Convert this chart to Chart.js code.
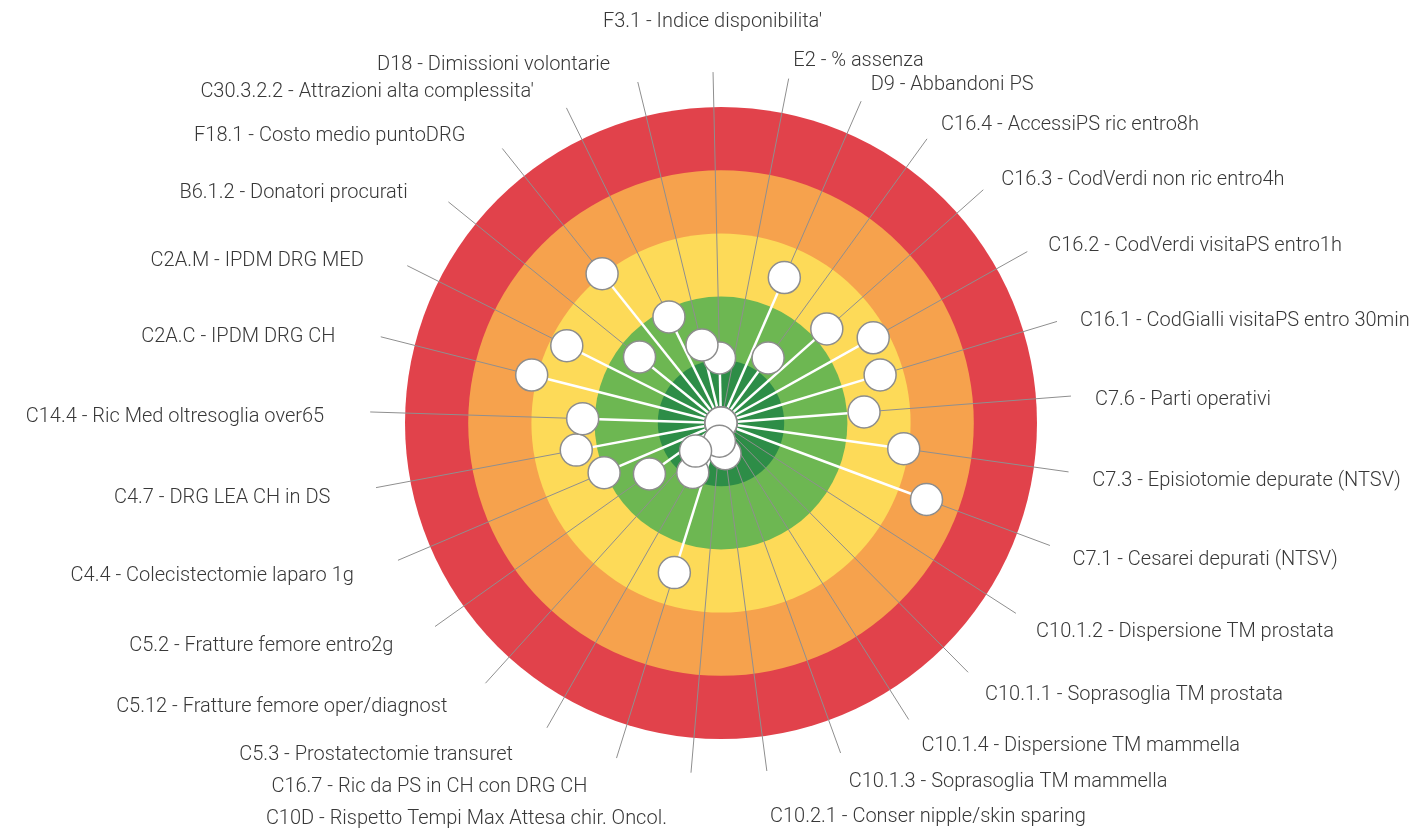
<!DOCTYPE html>
<html>
<head>
<meta charset="utf-8">
<script src="https://cdn.jsdelivr.net/npm/chart.js@4.4.1/dist/chart.umd.min.js"></script>
<style>
html,body{margin:0;padding:0;background:#ffffff;overflow:hidden;}
#wrap{position:absolute;left:0;top:0;width:1418px;height:840px;}
</style>
</head>
<body>
<div id="wrap"><canvas id="c" width="1418" height="840"></canvas></div>
<script>
// ---- data ----
const indicators = [
  "F3.1 - Indice disponibilita'",
  "E2 - % assenza",
  "D9 - Abbandoni PS",
  "C16.4 - AccessiPS ric entro8h",
  "C16.3 - CodVerdi non ric entro4h",
  "C16.2 - CodVerdi visitaPS entro1h",
  "C16.1 - CodGialli visitaPS entro 30min",
  "C7.6 - Parti operativi",
  "C7.3 - Episiotomie depurate (NTSV)",
  "C7.1 - Cesarei depurati (NTSV)",
  "C10.1.2 - Dispersione TM prostata",
  "C10.1.1 - Soprasoglia TM prostata",
  "C10.1.4 - Dispersione TM mammella",
  "C10.1.3 - Soprasoglia TM mammella",
  "C10.2.1 - Conser nipple/skin sparing",
  "C10D - Rispetto Tempi Max Attesa chir. Oncol.",
  "C16.7 - Ric da PS in CH con DRG CH",
  "C5.3 - Prostatectomie transuret",
  "C5.12 - Fratture femore oper/diagnost",
  "C5.2 - Fratture femore entro2g",
  "C4.4 - Colecistectomie laparo 1g",
  "C4.7 - DRG LEA CH in DS",
  "C14.4 - Ric Med oltresoglia over65",
  "C2A.C - IPDM DRG CH",
  "C2A.M - IPDM DRG MED",
  "B6.1.2 - Donatori procurati",
  "F18.1 - Costo medio puntoDRG",
  "C30.3.2.2 - Attrazioni alta complessita'",
  "D18 - Dimissioni volontarie"
];
const scores = [
  3.97, 5.00, 2.49, 3.73, 2.76, 2.24, 2.37, 2.73, 2.08, 1.53,
  5.00, 5.00, 5.00, 5.00, 4.51, 4.71, 2.52, 4.10, 4.40, 3.61,
  2.99, 2.67, 2.81, 1.91, 2.27, 3.34, 1.98, 3.13, 3.73
];
const bandLowerLimits = [0, 1, 2, 3, 4];
const bandNames = ["molto scarsa", "scarsa", "media", "buona", "ottima"];
const bandColors = ["#E1424B", "#F6A24D", "#FDDA58", "#6DB752", "#2D8D47"];

// ---- plugins ----
const ringsPlugin = {
  id: 'rings',
  beforeDraw(chart) {
    const s = chart.scales.r, c = chart.ctx;
    c.save();
    for (let b = 0; b < bandLowerLimits.length; b++) {
      const r = s.getDistanceFromCenterForValue(bandLowerLimits[b]);
      c.beginPath();
      c.arc(s.xCenter, s.yCenter, r, 0, Math.PI * 2);
      c.fillStyle = bandColors[b];
      c.fill();
    }
    c.restore();
  }
};

const stemsPlugin = {
  id: 'stems',
  beforeDatasetsDraw(chart) {
    const s = chart.scales.r, c = chart.ctx;
    const meta = chart.getDatasetMeta(0);
    c.save();
    c.strokeStyle = '#ffffff';
    c.lineWidth = 2.5;
    meta.data.forEach(pt => {
      c.beginPath();
      c.moveTo(s.xCenter, s.yCenter);
      c.lineTo(pt.x, pt.y);
      c.stroke();
    });
    c.restore();
  }
};

const labelsPlugin = {
  id: 'outerLabels',
  afterDraw(chart) {
    const s = chart.scales.r, c = chart.ctx;
    c.save();
    c.font = '300 20px Roboto, "Liberation Sans", sans-serif';
    c.fillStyle = '#383838';
    c.textBaseline = 'middle';
    const rad = s.drawingArea + 24;
    const margin = 14;
    indicators.forEach((txt, i) => {
      const a = s.getIndexAngle(i);
      const p = s.getPointPosition(i, rad);
      const sn = Math.sin(a), cs = Math.cos(a);
      const w = c.measureText(txt).width;
      let x = p.x, y = p.y + 6;
      if (Math.abs(sn) < 0.05) {
        c.textAlign = 'center';
        y = p.y - cs * 26;
      } else if (sn > 0) {
        c.textAlign = 'left';
        if (x + w > chart.width - 4) x = chart.width - 4 - w;
      } else {
        c.textAlign = 'right';
        x = p.x - 22;
        if (x - w < margin) x = margin + w;
      }
      if (Math.abs(sn) < 0.2 && cs < 0) y += 16;
      c.fillText(txt, x, y);
    });
    c.restore();
  }
};

new Chart(document.getElementById('c'), {
  type: 'radar',
  data: {
    labels: indicators,
    datasets: [{
      data: scores,
      showLine: false,
      borderWidth: 0,
      backgroundColor: 'rgba(0,0,0,0)',
      pointRadius: 16,
      pointHoverRadius: 16,
      pointBackgroundColor: '#ffffff',
      pointBorderColor: '#8d8d8d',
      pointBorderWidth: 1.5
    }]
  },
  options: {
    responsive: false,
    animation: false,
    devicePixelRatio: 1,
    events: [],
    layout: { padding: { left: 370, right: 346, top: 72, bottom: 66 } },
    plugins: { legend: { display: false }, tooltip: { enabled: false } },
    scales: {
      r: {
        min: -0.554,
        max: 5,
        reverse: true,
        startAngle: -1.3,
        ticks: { display: false },
        grid: { display: false },
        angleLines: { display: true, color: '#8f8f8f', lineWidth: 1 },
        pointLabels: { display: false }
      }
    }
  },
  plugins: [ringsPlugin, stemsPlugin, labelsPlugin]
});
</script>
</body>
</html>
